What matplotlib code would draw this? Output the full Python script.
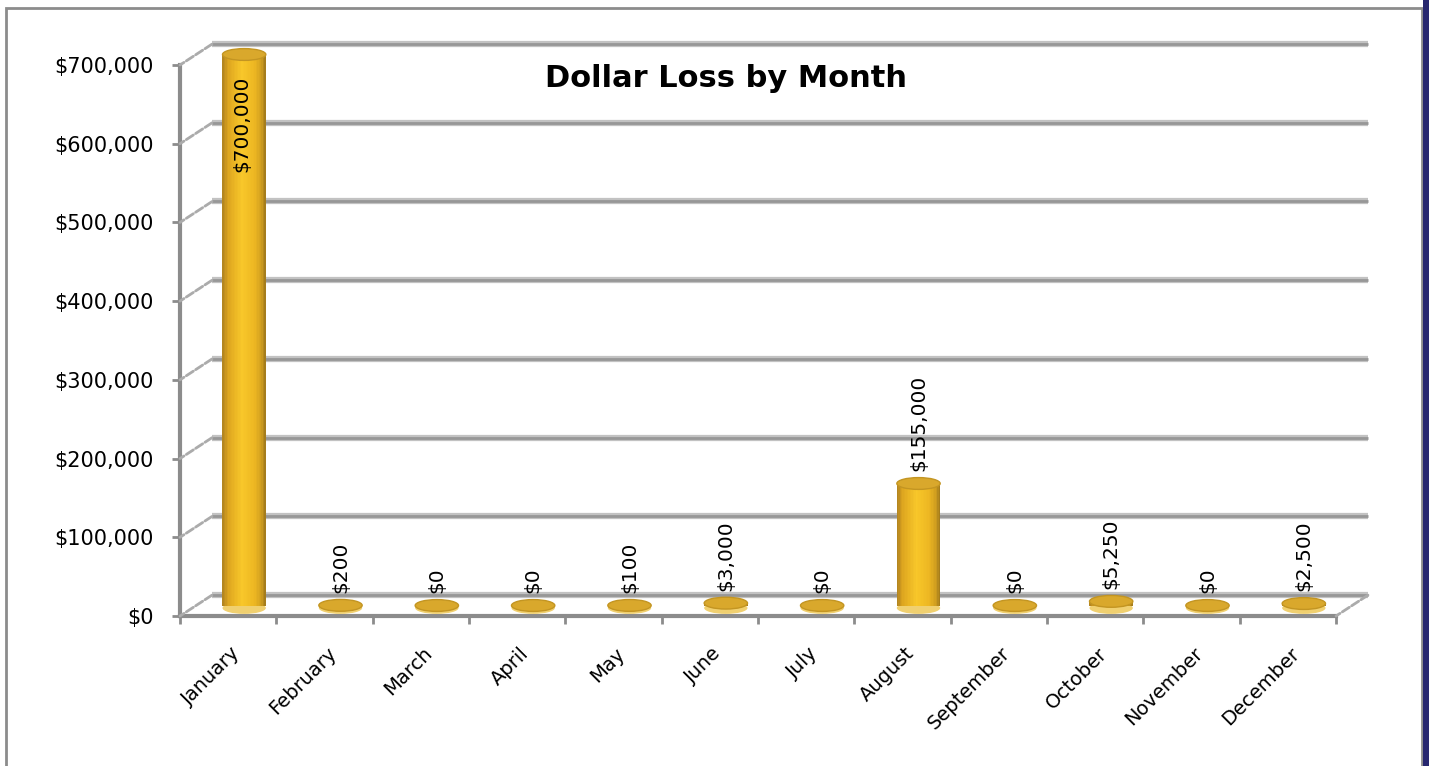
import numpy as np
import matplotlib.pyplot as plt
from matplotlib.patches import Ellipse, Rectangle
from matplotlib.ticker import FuncFormatter
from matplotlib.transforms import ScaledTranslation
from matplotlib.colors import LinearSegmentedColormap

# data
months = ['January', 'February', 'March', 'April', 'May', 'June', 'July',
          'August', 'September', 'October', 'November', 'December']
losses = [700000, 200, 0, 0, 100, 3000, 0, 155000, 0, 5250, 0, 2500]
y_ticks = [0, 100000, 200000, 300000, 400000, 500000, 600000, 700000]

plt.rcParams['font.family'] = ['DejaVu Sans']

fig = plt.figure(figsize=(14.29, 7.66), dpi=100)
W, H = 1429, 766
ax = fig.add_axes([180 / W, (H - 616) / H, 1156 / W, 551 / H])
ax.set_xlim(-0.5, 11.5)
ax.set_ylim(0, 700000)
ax.patch.set_alpha(0)

# 3d depth offsets (back wall, middle of the depth for the cylinders)
back = ax.transData + ScaledTranslation(0.32, 0.21, fig.dpi_scale_trans)
mid = ax.transData + ScaledTranslation(0.16, 0.105, fig.dpi_scale_trans)
rim = ax.transData + ScaledTranslation(0.16, 0.08, fig.dpi_scale_trans)

# back wall gridlines
ax.hlines(y_ticks, -0.5, 11.5, transform=back, color='#C2C2C2', lw=4.5,
          clip_on=False, zorder=1)
ax.hlines(y_ticks, -0.5, 11.5, transform=back, color='#979797', lw=2,
          clip_on=False, zorder=1)
# side wall diagonals
side = dict(arrowstyle='-', color='#ABABAB', lw=2, linestyle=(0, (3, 1)),
            shrinkA=0, shrinkB=0)
for yv in y_ticks:
    ax.annotate('', xy=(-0.5, yv), xytext=(23, 15), textcoords='offset points',
                arrowprops=side, annotation_clip=False)
ax.annotate('', xy=(11.5, 0), xytext=(23, 15), textcoords='offset points',
            arrowprops=side, annotation_clip=False)

# cylinders
x = np.arange(len(months))
bw = 0.45
eh = 15000  # ellipse height in data units (~12 px)
cyl = LinearSegmentedColormap.from_list('cyl', [
    (0.0, '#B48620'), (0.12, '#DDA51F'), (0.45, '#F8C72A'),
    (0.75, '#EDB722'), (0.92, '#CF9D1F'), (1.0, '#A67D1C')])
n = 30
for i, v in zip(x, losses):
    # bottom rim
    ax.add_patch(Ellipse((i, 0), bw, eh, transform=rim, facecolor='#F0D070',
                         edgecolor='none', zorder=3, clip_on=False))
for k in range(n):
    xs = x - bw / 2 + (k + 0.5) * bw / n
    ax.bar(xs, losses, width=bw / n * 1.15, color=cyl(k / (n - 1)),
           linewidth=0, transform=mid, zorder=4, clip_on=False)
for i, v in zip(x, losses):
    ax.add_patch(Ellipse((i, v), bw, eh, transform=mid, facecolor='#D9A82C',
                         edgecolor='#C39522', lw=1, zorder=5, clip_on=False))

# data labels
for i, v in zip(x, losses):
    lab = f'${v:,.0f}'
    if v > 500000:
        ax.annotate(lab, xy=(i, v), xycoords=mid, xytext=(-2, -15),
                    textcoords='offset points', rotation=90, ha='center',
                    va='top', fontsize=14.5, zorder=6, annotation_clip=False)
    else:
        ax.annotate(lab, xy=(i, v), xycoords=mid, xytext=(0, 9),
                    textcoords='offset points', rotation=90, ha='center',
                    va='bottom', fontsize=14.5, zorder=6, annotation_clip=False)

# axes styling
for s in ['top', 'right']:
    ax.spines[s].set_visible(False)
for s in ['left', 'bottom']:
    ax.spines[s].set_color('#8C8C8C')
    ax.spines[s].set_linewidth(3)
    ax.spines[s].set_zorder(2)

ax.set_yticks(y_ticks)
ax.yaxis.set_major_formatter(FuncFormatter(lambda v, _: f'${v:,.0f}'))
ax.tick_params(axis='y', length=6, width=2, color='#8C8C8C', pad=13,
               labelsize=15)

ax.set_xticks(x)
ax.set_xticks(np.arange(-0.5, 12, 1), minor=True)
ax.set_xticklabels(months, rotation=45, ha='right', rotation_mode='anchor',
                   fontsize=14)
ax.tick_params(axis='x', which='major', length=0, pad=20)
ax.tick_params(axis='x', which='minor', length=6, width=2, color='#8C8C8C')
for lbl in ax.get_xticklabels():
    lbl.set_transform(lbl.get_transform() +
                      ScaledTranslation(0.02, 0, fig.dpi_scale_trans))

fig.text(726 / W, 1 - 87 / H, 'Dollar Loss by Month', ha='center',
         va='baseline', fontsize=22, fontweight='bold')

# chart border and right edge strip
fig.patches.append(Rectangle((5.5 / W, -0.05), 1416 / W, 1.05 - 8.5 / H,
                             transform=fig.transFigure, fill=False,
                             edgecolor='#8C8C8C', lw=2))
fig.patches.append(Rectangle((1423 / W, 0), 6 / W, 1,
                             transform=fig.transFigure, facecolor='#27276F',
                             edgecolor='none'))

fig.savefig('out.png', dpi=100)
